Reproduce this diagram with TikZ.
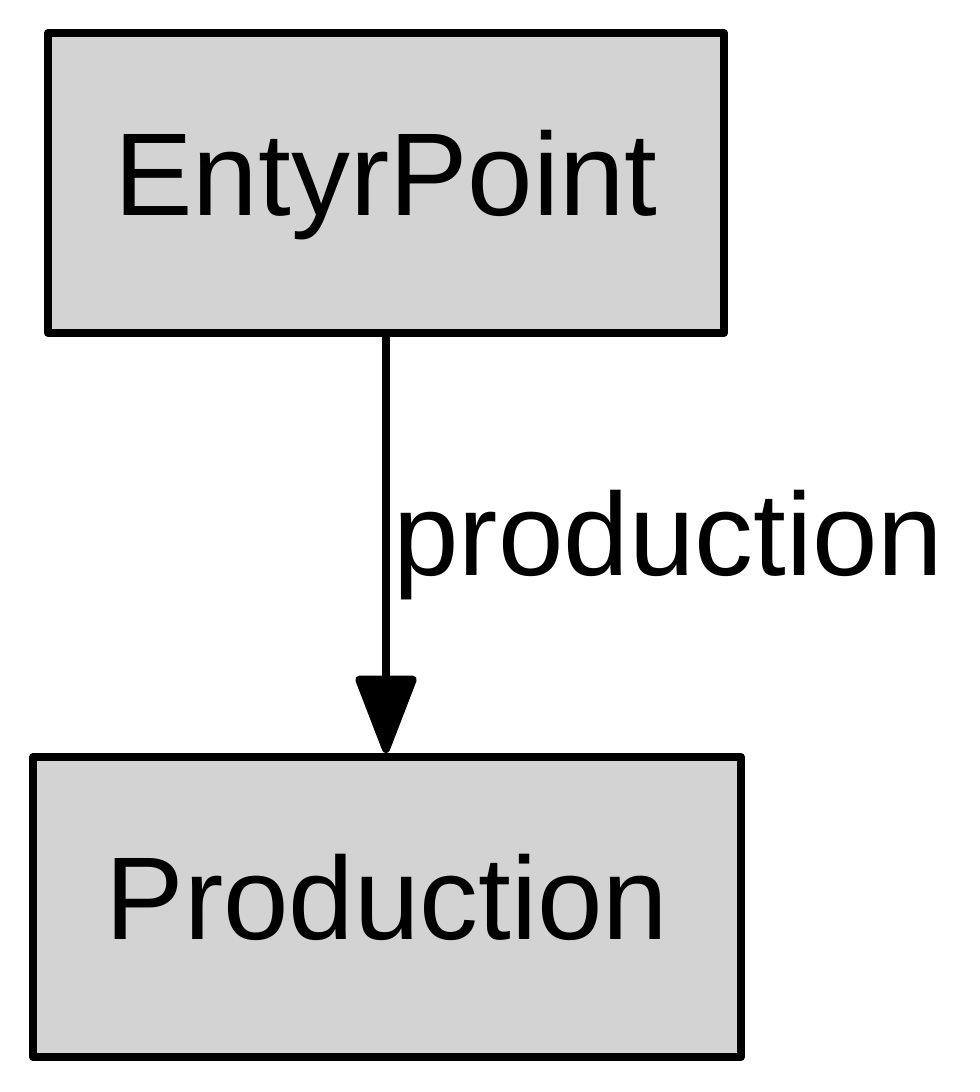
\documentclass[tikz,border=0pt]{standalone}
\usepackage{fontspec}
\setmainfont{Liberation Sans}
\usetikzlibrary{shapes.geometric,arrows.meta}
\tikzset{>={Triangle[width=6.3mm,length=8.5mm,round]}}

\begin{document}
\begin{tikzpicture}
    \tikzset{state/.style={rectangle,minimum height=3cm,draw,fill={rgb,255:red,211;green,211;blue,211},line width=0.8mm,line join=round,inner sep=0pt,text height=0.84cm,text depth=0.19cm,font=\fontsize{33.5}{38}\selectfont}}
    \tikzset{edgelabel/.style={font=\fontsize{33.5}{38}\selectfont,inner sep=1pt}}
    \useasboundingbox (0,0) rectangle (9.79,-10.92);
    \draw (3.86,-1.83) node[state,minimum width=6.76cm](entry){EntyrPoint};
    \draw (3.87,-9.07) node[state,minimum width=7.08cm](prod){Production};
    \draw[->,line width=0.8mm](entry.south -| 3.86,0) -- node[edgelabel,right]{production}(prod.north -| 3.86,0);
  \end{tikzpicture}
\end{document}
